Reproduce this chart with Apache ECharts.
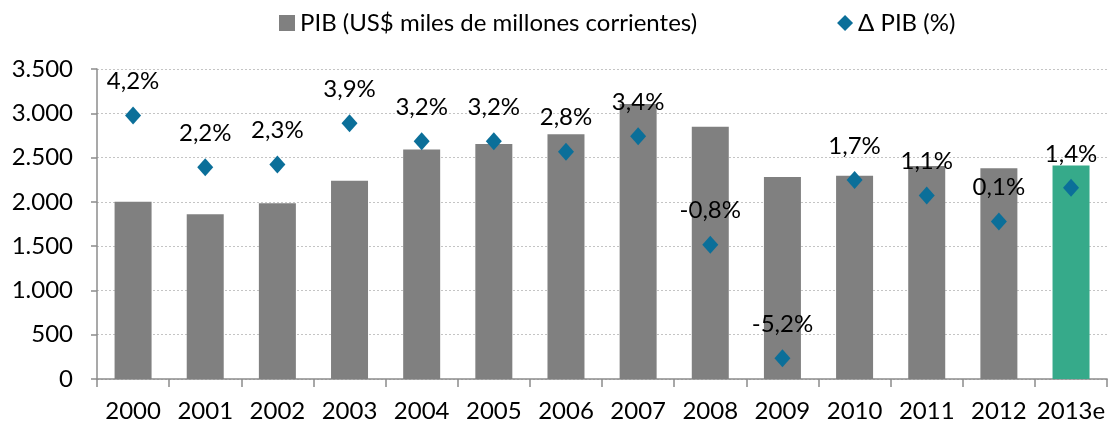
<!DOCTYPE html>
<html>
<head>
<meta charset="utf-8">
<script src="https://cdn.jsdelivr.net/npm/echarts@6/dist/echarts.min.js"></script>
<style>
html, body { margin: 0; padding: 0; background: #fff; }
#main { width: 1108px; height: 425px; }
</style>
</head>
<body>
<div id="main"></div>
<script>
// años
const years = ['2000', '2001', '2002', '2003', '2004', '2005', '2006', '2007', '2008', '2009', '2010', '2011', '2012', '2013e'];
// PIB en US$ miles de millones corrientes
const pib = [2000, 1860, 1985, 2237, 2590, 2654, 2762, 3104, 2849, 2282, 2294, 2406, 2380, 2410];
// variación del PIB (%)
const deltaPib = [4.2, 2.2, 2.3, 3.9, 3.2, 3.2, 2.8, 3.4, -0.8, -5.2, 1.7, 1.1, 0.1, 1.4];

const estimateIndex = years.indexOf('2013e');
const fontFam = 'Lato, "Open Sans", sans-serif';

let chart = echarts.init(document.getElementById('main'));

let option = {
    animation: false,
    backgroundColor: '#fff',
    textStyle: { fontFamily: fontFam },
    legend: {
        top: 6,
        left: 274,
        itemGap: 140,
        itemWidth: 16,
        itemHeight: 16,
        textStyle: { fontSize: 24, color: '#000', fontFamily: fontFam },
        data: [
            { name: 'PIB (US$ miles de millones corrientes)', icon: 'rect' },
            { name: 'Δ PIB (%)', icon: 'diamond' }
        ]
    },
    grid: { left: 97, top: 69, width: 1016, height: 310 },
    xAxis: {
        type: 'category',
        data: years,
        axisLine: { lineStyle: { color: '#8c8c8c', width: 1.5 } },
        axisTick: { show: true, length: 8, lineStyle: { color: '#8c8c8c', width: 1.5 } },
        axisLabel: { color: '#000', fontSize: 24, margin: 20, interval: 0, fontFamily: fontFam }
    },
    yAxis: [{
        type: 'value',
        min: 0,
        max: 3500,
        interval: 500,
        axisLine: { show: true, lineStyle: { color: '#8c8c8c', width: 1.5 } },
        axisTick: { show: true, length: 6, lineStyle: { color: '#8c8c8c', width: 1.5 } },
        axisLabel: {
            color: '#000', fontSize: 24, margin: 24, fontFamily: fontFam,
            formatter: v => String(v).replace(/\B(?=(\d{3})+(?!\d))/g, '.')
        },
        splitLine: { lineStyle: { color: '#c4c4c4', type: [2, 2] } }
    }, {
        type: 'value',
        min: -6,
        max: 6,
        show: false,
        splitLine: { show: false }
    }],
    series: [{
        name: 'PIB (US$ miles de millones corrientes)',
        type: 'bar',
        barWidth: 37,
        itemStyle: { color: '#808080' },
        data: pib.map((v, i) => i === estimateIndex
            ? { value: v, itemStyle: { color: '#36AA8A' } }
            : v)
    }, {
        name: 'Δ PIB (%)',
        type: 'scatter',
        yAxisIndex: 1,
        symbol: 'diamond',
        symbolSize: [16, 18],
        z: 5,
        itemStyle: { color: '#0B6F99', opacity: 1 },
        label: {
            show: true,
            position: 'top',
            distance: 13,
            color: '#000',
            fontSize: 24,
            fontFamily: fontFam,
            formatter: p => p.value.toFixed(1).replace('.', ',') + '%'
        },
        data: deltaPib
    }]
};

chart.setOption(option);
</script>
</body>
</html>
